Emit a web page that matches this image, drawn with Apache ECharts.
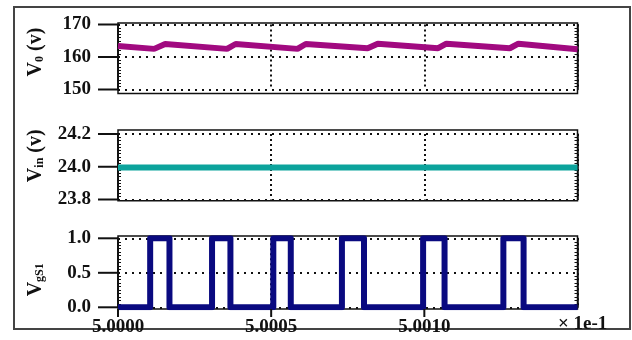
<!DOCTYPE html>
<html>
<head>
<meta charset="utf-8">
<script src="https://cdn.jsdelivr.net/npm/echarts@6/dist/echarts.min.js"></script>
<style>
  html, body { margin: 0; padding: 0; background: #fff; }
  #chart { width: 632px; height: 340px; }
</style>
</head>
<body>
<div id="chart"></div>
<script>
// Time base: axis reads t in units of 1e-1 s; series times are microseconds after T0
const T0 = 5.0;
const timeTicks = [0, 50, 100];

// Output voltage V0 (V)
const voTime  = [0, 11.8, 15.4, 35.6, 38.4, 58.6, 61.3, 81.5, 84.8, 104.5, 107.2, 127.9, 130.7, 150];
const voValue = [163.4, 162.5, 164.0, 162.5, 164.0, 162.5, 164.0, 162.7, 164.1, 162.7, 164.1, 162.7, 164.1, 162.4];

// Input voltage Vin (V)
const vinTime  = [0, 150];
const vinValue = [23.995, 23.995];

// Gate signal VgS1: rising and falling edge times
const gateRise = [10.5, 30.7, 50.7, 73.1, 99.6, 125.8];
const gateFall = [16.8, 36.7, 56.4, 80.3, 106.6, 132.4];

// Y tick values per panel
const voTicks   = [150, 160, 170];
const vinTicks  = [23.8, 24.0, 24.2];
const gateTicks = [0.0, 0.5, 1.0];

const FONT = 'Liberation Serif';
const INK = '#111';

function zip(xs, ys) { return xs.map((x, i) => [x, ys[i]]); }

// square-wave points from edge times
const gatePoints = [[0, 0]];
gateRise.forEach((r, i) => {
  gatePoints.push([r, 0], [r, 1], [gateFall[i], 1], [gateFall[i], 0]);
});
gatePoints.push([150, 0]);

// plotting areas (tick extents) and surrounding frames
const plotBoxes = [
  { top: 24.5, height: 65 },
  { top: 134, height: 65.5 },
  { top: 238.3, height: 69 }
];
const frameBoxes = [
  { top: 23, height: 70.5 },
  { top: 130, height: 70.7 },
  { top: 236, height: 73 }
];
const LEFT = 118, WIDTH = 459.5;
const Y_TICK_LEN = 20, X_TICK_LEN = 8, X_FRAME_GAP = 1.7;

const grids = plotBoxes.concat(frameBoxes).map((b, i) => ({
  left: LEFT, width: WIDTH, top: b.top, height: b.height,
  show: i >= 3,
  borderColor: INK, borderWidth: 1.5,
  backgroundColor: 'transparent'
}));

function timeAxis(gi, withLabels) {
  return {
    type: 'value', gridIndex: gi, min: 0, max: 150, interval: 50,
    offset: withLabels ? X_FRAME_GAP : 0,
    axisLine: { show: false },
    axisTick: { show: false },
    axisLabel: {
      show: withLabels, margin: 9, customValues: timeTicks,
      color: INK, fontFamily: FONT, fontWeight: 'bold', fontSize: 19,
      formatter: v => (v >= 150 ? '' : (T0 + v * 1e-5).toFixed(4))
    },
    splitLine: { show: true, lineStyle: { color: INK, width: 2, type: [2, 3] } }
  };
}

function nameStyle(pad) {
  const base = { color: INK, fontFamily: FONT, fontWeight: 'bold' };
  return Object.assign({}, base, {
    fontSize: 19, padding: pad,
    rich: {
      v: Object.assign({}, base, { fontSize: 20 }),
      s: Object.assign({}, base, { fontSize: 12, verticalAlign: 'bottom' })
    }
  });
}

function valueAxisMain(gi, ticks, digits, name, pad) {
  return {
    type: 'value', gridIndex: gi, position: 'left',
    min: ticks[0], max: ticks[ticks.length - 1], interval: ticks[1] - ticks[0],
    axisLine: { show: true, lineStyle: { color: INK, width: 1.5 } },
    axisTick: { show: false },
    minorTick: { show: false },
    axisLabel: {
      margin: 27, color: INK, fontFamily: FONT, fontWeight: 'bold', fontSize: 19,
      formatter: v => v.toFixed(digits)
    },
    splitLine: { show: true, lineStyle: { color: INK, width: 2, type: [2, 5] } },
    name: name, nameLocation: 'middle', nameRotate: 90, nameGap: 72,
    nameTextStyle: nameStyle(pad)
  };
}

// inner minor tick rows along the left and right edges
function minorAxis(gi, ticks, side) {
  return {
    type: 'value', gridIndex: gi, position: side,
    min: ticks[0], max: ticks[ticks.length - 1], interval: ticks[1] - ticks[0],
    axisLine: { show: true, lineStyle: { color: INK, width: 1.5 } },
    axisTick: { show: false, inside: true },
    minorTick: { show: true, splitNumber: 10, length: 3, lineStyle: { color: INK, width: 1 } },
    axisLabel: { show: false },
    splitLine: { show: false }
  };
}

function hiddenAxis(gi) {
  return { type: 'value', gridIndex: gi, show: false, min: 0, max: 1,
    splitLine: { show: false } };
}

const xAxes = [
  timeAxis(0, false), timeAxis(1, false), timeAxis(2, true),
  hiddenAxis(3), hiddenAxis(4), hiddenAxis(5)
];

const yAxes = [
  valueAxisMain(0, voTicks, 0, '{v|V}{s|0}{v| (v)}', [0, 0, 0, 10]),
  valueAxisMain(1, vinTicks, 1, '{v|V}{s|in}{v| (v)}', [0, 0, 0, 22]),
  valueAxisMain(2, gateTicks, 1, '{v|V}{s|gS1}', [0, 14, 0, 0]),
  minorAxis(0, voTicks, 'left'), minorAxis(1, vinTicks, 'left'), minorAxis(2, gateTicks, 'left'),
  minorAxis(0, voTicks, 'right'), minorAxis(1, vinTicks, 'right'), minorAxis(2, gateTicks, 'right'),
  hiddenAxis(3), hiddenAxis(4), hiddenAxis(5)
];

const baseGraphics = [
  { id: 'outer', type: 'rect', silent: true, z: -10,
    shape: { x: 14, y: 7, width: 616, height: 322 },
    style: { fill: 'none', stroke: '#444', lineWidth: 2 } },
  { id: 'scale', type: 'text', left: 558, top: 315, silent: true,
    style: { text: '\u00d7 1e-1', font: 'bold 19px "Liberation Serif"', fill: INK } }
];

const chart = echarts.init(document.getElementById('chart'), null, { renderer: 'canvas' });
chart.setOption({
  animation: false,
  backgroundColor: '#fff',
  grid: grids,
  xAxis: xAxes,
  yAxis: yAxes,
  graphic: baseGraphics,
  series: [
    { type: 'line', xAxisIndex: 0, yAxisIndex: 0, data: zip(voTime, voValue),
      symbol: 'none', lineStyle: { color: '#a10a80', width: 6 } },
    { type: 'line', xAxisIndex: 1, yAxisIndex: 1, data: zip(vinTime, vinValue),
      symbol: 'none', lineStyle: { color: '#0ba39c', width: 6 } },
    { type: 'line', xAxisIndex: 2, yAxisIndex: 2, data: gatePoints,
      symbol: 'none', lineStyle: { color: '#0a0a80', width: 6, join: 'round' } }
  ]
});

// outward tick marks, placed through each panel's own axes
const tickMarks = [];
[[0, voTicks], [1, vinTicks], [2, gateTicks]].forEach(([gi, ticks]) => {
  ticks.forEach((v, k) => {
    const p = chart.convertToPixel({ xAxisIndex: gi, yAxisIndex: gi }, [0, v]);
    tickMarks.push({ id: 'yt' + gi + '_' + k, type: 'line', silent: true, z: 100,
      shape: { x1: p[0] - Y_TICK_LEN, y1: p[1], x2: p[0], y2: p[1] },
      style: { stroke: INK, lineWidth: 2 } });
  });
});
timeTicks.forEach((t, k) => {
  const p = chart.convertToPixel({ xAxisIndex: 2, yAxisIndex: 2 }, [t, gateTicks[0]]);
  const y0 = p[1] + X_FRAME_GAP;
  tickMarks.push({ id: 'xt' + k, type: 'line', silent: true, z: 100,
    shape: { x1: p[0], y1: y0, x2: p[0], y2: y0 + X_TICK_LEN },
    style: { stroke: INK, lineWidth: 2 } });
});
chart.setOption({ graphic: baseGraphics.concat(tickMarks) });
</script>
</body>
</html>
